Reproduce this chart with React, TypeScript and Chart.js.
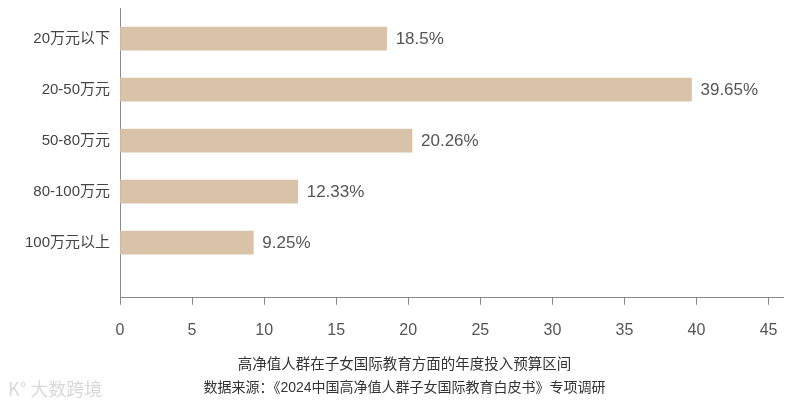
import React, { useEffect, useRef } from "react";
import { Chart, registerables } from "chart.js";

Chart.register(...registerables);

const categories = ["20万元以下", "20-50万元", "50-80万元", "80-100万元", "100万元以上"];
const shares = [18.5, 39.65, 20.26, 12.33, 9.25];
const shareLabels = ["18.5%", "39.65%", "20.26%", "12.33%", "9.25%"];
const xTicks = [0, 5, 10, 15, 20, 25, 30, 35, 40, 45];
const axisTitle = "高净值人群在子女国际教育方面的年度投入预算区间";
const sourceText = "数据来源：《2024中国高净值人群子女国际教育白皮书》专项调研";

const FONT = '"Liberation Sans", "Noto Sans CJK SC", sans-serif';

const valueLabelPlugin = {
  id: "valueLabels",
  afterDatasetsDraw(chart: any) {
    const ctx = chart.ctx;
    const meta = chart.getDatasetMeta(0);
    ctx.save();
    ctx.font = `17px ${FONT}`;
    ctx.fillStyle = "#555555";
    ctx.textAlign = "left";
    ctx.textBaseline = "middle";
    meta.data.forEach((bar: any, i: number) => {
      ctx.fillText(shareLabels[i], bar.x + 9, bar.y + 1);
    });
    ctx.restore();
  },
};

export default function App() {
  const canvasRef = useRef<HTMLCanvasElement | null>(null);

  useEffect(() => {
    if (!canvasRef.current) return;
    const chart = new Chart(canvasRef.current, {
      type: "bar",
      data: {
        datasets: [
          {
            data: shares.map((v, i) => ({ x: v, y: i })),
            backgroundColor: "#D9C3A8",
            borderWidth: 0,
            barThickness: 23,
          },
        ],
      },
      options: {
        indexAxis: "y",
        animation: false,
        responsive: true,
        maintainAspectRatio: false,
        layout: { padding: { top: 8, right: 13, left: 26, bottom: 7 } },
        plugins: {
          legend: { display: false },
          tooltip: { enabled: false },
          subtitle: {
            display: true,
            position: "bottom",
            text: axisTitle,
            color: "#333333",
            font: { family: FONT, size: 14.5, weight: "normal" },
            padding: { top: 12.5, bottom: 2.5 },
          },
          title: {
            display: true,
            position: "bottom",
            text: sourceText,
            color: "#333333",
            font: { family: FONT, size: 14, weight: "normal" },
            padding: { top: 4, bottom: 6 },
          },
        },
        scales: {
          x: {
            type: "linear",
            min: 0,
            max: 46,
            afterBuildTicks: (axis: any) => {
              axis.ticks = xTicks.map((v) => ({ value: v }));
            },
            afterFit: (axis: any) => {
              axis.height = 46;
            },
            border: { display: true, color: "#8a8a8a", width: 1 },
            grid: {
              display: true,
              drawOnChartArea: false,
              drawTicks: true,
              tickLength: 7,
              color: "#8a8a8a",
            },
            ticks: {
              color: "#555555",
              padding: 16,
              font: { family: FONT, size: 16 },
            },
          },
          y: {
            type: "linear",
            reverse: true,
            offset: false,
            min: -0.6,
            max: 5.08,
            afterBuildTicks: (axis: any) => {
              axis.ticks = categories.map((_, i) => ({ value: i }));
            },
            afterFit: (axis: any) => {
              axis.width = 94;
              axis.paddingTop = 0;
              axis.paddingBottom = 0;
            },
            border: { display: true, color: "#8a8a8a", width: 1 },
            grid: { display: false, drawTicks: false, offset: false },
            ticks: {
              color: "#444444",
              padding: 10,
              font: { family: FONT, size: 15 },
              callback: (value: any) => categories[value as number] ?? "",
            },
          },
        },
      },
      plugins: [valueLabelPlugin],
    });
    return () => chart.destroy();
  }, []);

  return (
    <div
      style={{
        position: "fixed",
        left: 0,
        top: 0,
        width: 796,
        height: 410,
        background: "#ffffff",
      }}
    >
      <canvas ref={canvasRef} />
      <div
        style={{
          position: "absolute",
          left: 8,
          top: 375,
          fontFamily: '"Noto Sans CJK SC", sans-serif',
          fontSize: 18,
          color: "#d9d9d9",
        }}
      >
        K° 大数跨境
      </div>
    </div>
  );
}
